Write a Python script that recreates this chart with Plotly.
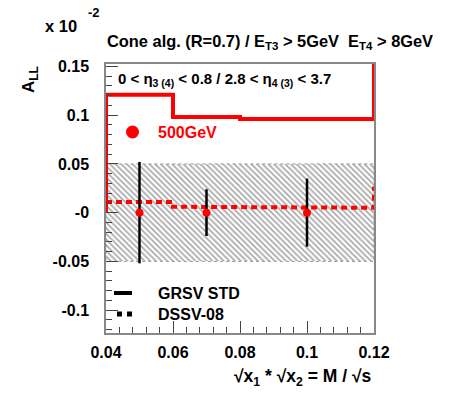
import plotly.graph_objects as go

# ---- data ----
bin_edges = [0.04, 0.06, 0.08, 0.12]
grsv_vals = [0.121, 0.098, 0.096]
grsv_next = 0.25          # next bin (off-scale above)
dssv_vals = [0.011, 0.006, 0.005]
dssv_next = 0.0245        # next bin starts above
pt_x = [0.05, 0.07, 0.10]
pt_y = [0.0, 0.0, 0.0]
pt_err = [0.052, 0.024, 0.035]
band_lo, band_hi = -0.05, 0.05
x_ticks = [0.04, 0.06, 0.08, 0.10, 0.12]
x_ticktext = ["0.04", "0.06", "0.08", "0.1", "0.12"]
y_ticks = [-0.1, -0.05, 0.0, 0.05, 0.1, 0.15]
y_ticktext = ["-0.1", "-0.05", "-0", "0.05", "0.1", "0.15"]

FONT = "Liberation Sans"
RED = "#ff0000"

def step_xy(edges, vals, start, nxt, extend):
    xs, ys = [], []
    if start is not None:
        xs.append(edges[0]); ys.append(start)
    for i, v in enumerate(vals):
        xs += [edges[i], edges[i + 1]]
        ys += [v, v]
    xs += [edges[-1], edges[-1] + extend]
    ys += [nxt, nxt]
    return xs, ys

fig = go.Figure()

# hatched band
fig.add_trace(go.Scatter(
    x=[bin_edges[0], bin_edges[-1], bin_edges[-1], bin_edges[0], bin_edges[0]],
    y=[band_lo, band_lo, band_hi, band_hi, band_lo],
    mode="lines", fill="toself",
    fillcolor="rgba(255,255,255,0)",
    fillpattern=dict(shape="\\", fgcolor="#555555", bgcolor="white", size=4, solidity=0.45),
    line=dict(color="#999999", width=1, dash="dot"),
    hoverinfo="skip", showlegend=False))

gx, gy = step_xy(bin_edges, grsv_vals, 0.0, grsv_next, 0.02)
fig.add_trace(go.Scatter(x=gx, y=gy, mode="lines",
                         line=dict(color=RED, width=4), showlegend=False))
dx, dy = step_xy(bin_edges, dssv_vals, None, dssv_next, 0.02)
fig.add_trace(go.Scatter(x=dx, y=dy, mode="lines",
                         line=dict(color=RED, width=4, dash="6px,4px"), showlegend=False))

fig.add_trace(go.Scatter(
    x=pt_x, y=pt_y, mode="markers",
    marker=dict(color=RED, size=8),
    error_y=dict(type="data", array=pt_err, color="black", thickness=2.5, width=0),
    showlegend=False))

# legend keys (paper coords)
fig.add_shape(type="circle", xref="paper", yref="paper",
              x0=(126 - 106) / 268, x1=(139 - 106) / 268,
              y0=(333 - 138.5) / 269, y1=(333 - 125.5) / 269,
              fillcolor=RED, line=dict(color=RED, width=0))
fig.add_shape(type="line", xref="paper", yref="paper",
              x0=(114 - 106) / 268, x1=(132 - 106) / 268,
              y0=(333 - 293) / 269, y1=(333 - 293) / 269,
              line=dict(color="black", width=4))
fig.add_shape(type="line", xref="paper", yref="paper",
              x0=(117 - 106) / 268, x1=(133 - 106) / 268,
              y0=(333 - 314) / 269, y1=(333 - 314) / 269,
              line=dict(color="black", width=5, dash="5px,5px"))

def ann(text, x, y, color="black", size=16, xanchor="left", yanchor="middle", **kw):
    fig.add_annotation(text=text, xref="paper", yref="paper",
                       x=(x - 106) / 268, y=(333 - y) / 269,
                       xanchor=xanchor, yanchor=yanchor, showarrow=False,
                       font=dict(family=FONT, size=size, color=color), **kw)

ann("<b>500GeV</b>", 156, 132, color=RED)
ann("<b>GRSV STD</b>", 156, 293, size=16)
ann("<b>DSSV-08</b>", 156, 314, size=16)
ann("<b>0 &lt; η<sub>3 (4)</sub> &lt; 0.8 / 2.8 &lt; η<sub>4 (3)</sub> &lt; 3.7</b>", 116, 80, size=15)
ann("<b>Cone alg. (R=0.7) / E<sub>T3</sub> &gt; 5GeV  E<sub>T4</sub> &gt; 8GeV</b>", 105, 42, size=16.4)
ann("<b>x 10</b>", 43, 26, size=16.5)
ann("<b>-2</b>", 86, 13, size=13)
ann("<b>A<sub>LL</sub></b>", 30, 80, size=17, textangle=-90, xanchor="center")
ann("<b>√x<sub>1</sub> * √x<sub>2</sub> = M / √s</b>", 374, 377, size=17.5, xanchor="right")

fig.update_layout(
    width=453, height=397,
    margin=dict(l=106, r=79, t=64, b=64),
    paper_bgcolor="white", plot_bgcolor="white",
    font=dict(family=FONT, size=16, color="black"),
    showlegend=False,
    xaxis=dict(range=[0.04, 0.12], tickvals=x_ticks, ticktext=[f"<b>{t}</b>" for t in x_ticktext],
               ticks="inside", ticklen=12, tickcolor="#444", tickwidth=1,
               showgrid=False, zeroline=False, showline=True, linecolor="#888", linewidth=1.5,
               mirror=True, tickfont=dict(size=16), ticklabelstandoff=4,
               minor=dict(ticks="inside", ticklen=6, dtick=0.004, tickcolor="#444")),
    yaxis=dict(range=[-0.1235, 0.1525], tickvals=y_ticks, ticktext=[f"<b>{t}</b>" for t in y_ticktext],
               ticks="inside", ticklen=12, tickcolor="#444", tickwidth=1,
               showgrid=False, zeroline=False, showline=True, linecolor="#888", linewidth=1.5,
               mirror=True, tickfont=dict(size=16), ticklabelstandoff=12,
               minor=dict(ticks="inside", ticklen=6, dtick=0.01, tickcolor="#444")),
)

fig.write_html("out.html")
